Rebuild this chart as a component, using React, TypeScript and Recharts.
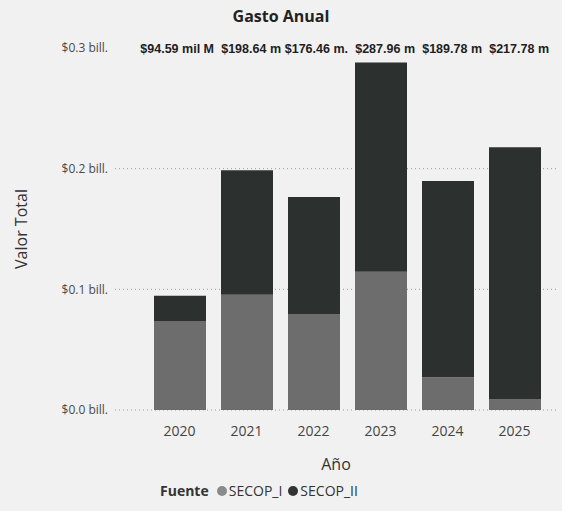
import { BarChart, Bar, XAxis, YAxis, CartesianGrid, Legend, LabelList } from "recharts";

const years = ["2020", "2021", "2022", "2023", "2024", "2025"];
// values in "mil M." (thousand millions)
const secopI = [73.8, 95.5, 79.6, 114.5, 27.2, 9.1];
const secopII = [20.79, 103.14, 96.86, 173.46, 162.58, 208.68];
// total labels as they show on screen (cut off where the next one starts)
const totalLabels = ["$94.59 mil M", "$198.64 m", "$176.46 m.", "$287.96 m", "$189.78 m", "$217.78 m"];
const yTicks = [0, 100, 200, 300];

const data = years.map((year, i) => ({
  year,
  SECOP_I: secopI[i],
  SECOP_II: secopII[i],
  label: totalLabels[i],
}));

const BG = "#f1f1f1";
const FONT = "'Open Sans', 'Noto Sans', sans-serif";
const COLOR_I = "#6d6d6d";
const COLOR_II = "#2c302f";

const TotalLabel = (props: any) => {
  const { x, width, value } = props;
  const cx = x + width / 2;
  return (
    <text
      x={cx + 34}
      y={49}
      textAnchor="end"
      dominantBaseline="central"
      fontFamily="'Liberation Sans', Arial, sans-serif"
      fontWeight={700}
      fontSize={12.5}
      fill="#1e1e1e"
    >
      {value}
    </text>
  );
};

const renderLegend = () => (
  <div
    style={{
      display: "flex",
      alignItems: "center",
      marginLeft: 160,
      marginTop: 6,
      fontFamily: FONT,
      fontSize: 14,
      color: "#333",
    }}
  >
    <span style={{ fontWeight: 700, fontSize: 14, marginRight: 8 }}>Fuente</span>
    <span style={{ width: 10, height: 10, borderRadius: 5, background: "#8a8a8a", marginRight: 2 }} />
    <span style={{ marginRight: 6 }}>SECOP_I</span>
    <span style={{ width: 10, height: 10, borderRadius: 5, background: "#333", marginRight: 2 }} />
    <span>SECOP_II</span>
  </div>
);

export default function App() {
  return (
    <div
      style={{
        position: "absolute",
        left: 0,
        top: 0,
        width: 562,
        height: 511,
        background: BG,
        overflow: "hidden",
      }}
    >
      <div
        style={{
          position: "absolute",
          top: 5,
          left: 0,
          width: 562,
          textAlign: "center",
          fontFamily: FONT,
          fontWeight: 700,
          fontSize: 16,
          color: "#222",
        }}
      >
        Gasto Anual
      </div>
      <BarChart
        width={562}
        height={511}
        data={data}
        margin={{ top: 48, right: 5, left: 0, bottom: 8 }}
        barSize={52}
      >
        <CartesianGrid
          vertical={false}
          horizontalValues={[0, 100, 200]}
          strokeDasharray="1 3"
          stroke="#9a9a9a"
        />
        <XAxis
          dataKey="year"
          height={65}
          axisLine={false}
          tickLine={false}
          tickSize={0}
          tickMargin={16}
          padding={{ left: 31, right: 9 }}
          tick={{ fill: "#444", fontSize: 14, fontFamily: FONT }}
          label={{
            value: "Año",
            position: "insideBottom",
            offset: 5,
            fill: "#333",
            fontSize: 16,
            fontFamily: FONT,
          }}
        />
        <YAxis
          width={115}
          domain={[0, 300]}
          ticks={yTicks}
          axisLine={false}
          tickLine={false}
          tickSize={0}
          tickMargin={7}
          tickFormatter={(v) => `$${(v / 1000).toFixed(1)} bill.`}
          tick={{ fill: "#4a4a4a", fontSize: 12, fontFamily: FONT }}
          label={{
            value: "Valor Total",
            angle: -90,
            position: "insideLeft",
            offset: 21,
            style: { textAnchor: "middle" },
            fill: "#333",
            fontSize: 16,
            fontFamily: FONT,
          }}
        />
        <Legend verticalAlign="bottom" align="left" height={28} content={renderLegend} />
        <Bar dataKey="SECOP_I" stackId="a" fill={COLOR_I} isAnimationActive={false} />
        <Bar dataKey="SECOP_II" stackId="a" fill={COLOR_II} isAnimationActive={false}>
          <LabelList dataKey="label" content={TotalLabel} />
        </Bar>
      </BarChart>
    </div>
  );
}
